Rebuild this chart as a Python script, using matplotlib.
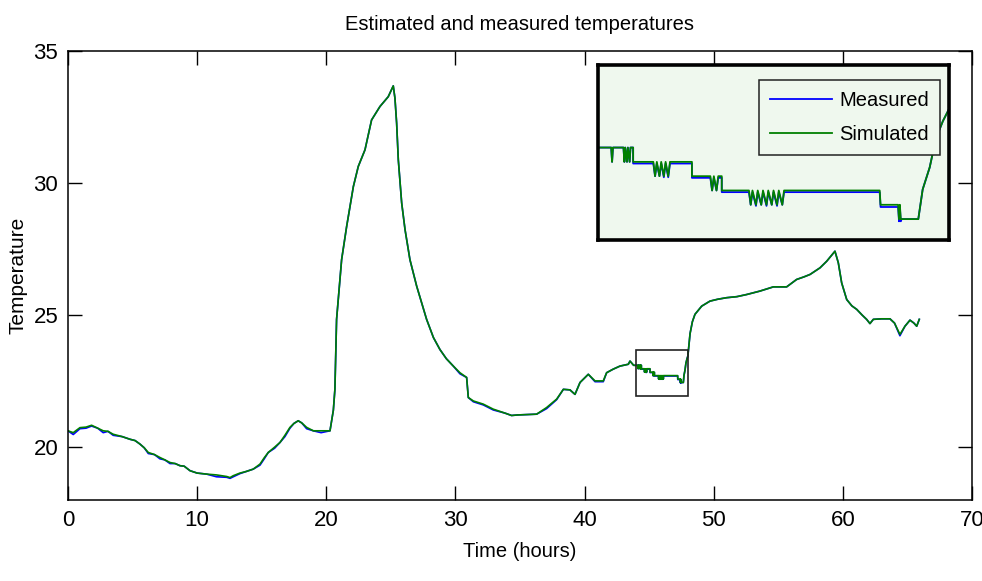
import numpy as np
import matplotlib
matplotlib.use('Agg')
import matplotlib.pyplot as plt
from matplotlib.patches import Rectangle

plt.rcParams['font.family'] = ['Liberation Sans', 'DejaVu Sans']
plt.rcParams['font.size'] = 15

# Datos -----------------------------------------------------------------------
tiempo = [0.00, 0.41, 0.93, 1.40, 1.83, 2.30, 2.73, 3.10, 3.50, 4.20, 4.80, 5.20,
          5.57, 5.90, 6.22, 6.70, 7.12, 7.50, 7.90, 8.30, 8.67, 9.00, 9.45, 10.00,
          10.74, 11.50, 12.29, 12.55, 12.80, 13.32, 13.80, 14.35, 14.87, 15.20, 15.51, 16.00,
          16.42, 16.80, 17.19, 17.50, 17.83, 18.10, 18.48, 19.00, 19.60, 20.29, 20.55, 20.67,
          20.80, 21.19, 21.58, 22.10, 22.48, 23.00, 23.51, 24.16, 24.80, 25.19, 25.32, 25.45,
          25.58, 25.84, 26.10, 26.48, 27.00, 27.77, 28.30, 28.80, 29.30, 29.84, 30.35, 30.87,
          31.00, 31.39, 32.16, 32.93, 33.84, 34.35, 34.80, 36.29, 37.06, 37.84, 38.36, 38.87,
          39.26, 39.65, 40.29, 40.81, 41.45, 41.71, 42.20, 42.74, 43.39, 43.52, 43.80, 44.00,
          # zona ampliada
          44.15, 44.16, 44.17, 44.29, 44.30, 44.31, 44.33, 44.34, 44.36, 44.37, 44.40, 44.40,
          44.63, 44.65, 44.67, 44.70, 44.72, 44.75, 44.77, 44.80, 44.82, 45.07, 45.07, 45.28,
          45.30, 45.32, 45.35, 45.37, 45.41, 45.41, 45.72, 45.74, 45.76, 45.80, 45.82, 45.86,
          45.88, 45.92, 45.94, 45.98, 46.00, 46.04, 46.06, 46.10, 46.12, 46.14, 47.21, 47.22,
          47.26, 47.42, 47.43, 47.44, 47.45, 47.46, 47.65, 47.70, 47.78, 47.85, 47.93, 48.00,
          # resto
          48.17, 48.35, 48.55, 49.07, 49.71, 50.30, 51.00, 51.80, 52.55, 53.58, 54.62, 55.65,
          56.42, 57.00, 57.46, 58.23, 58.75, 59.10, 59.39, 59.65, 59.91, 60.30, 60.70, 61.07,
          61.50, 61.84, 62.10, 62.36, 63.00, 63.65, 64.00, 64.42, 64.81, 65.20, 65.50, 65.72,
          65.92]

simulada = [20.62, 20.55, 20.74, 20.76, 20.83, 20.72, 20.62, 20.60, 20.49, 20.40, 20.30, 20.25,
            20.12, 19.98, 19.80, 19.72, 19.61, 19.52, 19.42, 19.38, 19.30, 19.28, 19.11, 19.02,
            18.98, 18.95, 18.89, 18.85, 18.92, 19.02, 19.08, 19.17, 19.36, 19.60, 19.80, 20.00,
            20.18, 20.45, 20.75, 20.90, 21.00, 20.92, 20.75, 20.62, 20.62, 20.62, 21.40, 22.19,
            24.84, 27.10, 28.36, 29.87, 30.63, 31.26, 32.39, 32.90, 33.27, 33.68, 33.21, 32.27,
            30.88, 29.25, 28.24, 27.10, 26.10, 24.84, 24.15, 23.70, 23.35, 23.07, 22.82, 22.64,
            21.88, 21.75, 21.63, 21.44, 21.29, 21.20, 21.22, 21.25, 21.50, 21.82, 22.19, 22.17,
            22.00, 22.45, 22.76, 22.51, 22.51, 22.82, 22.95, 23.07, 23.14, 23.26, 23.10, 23.10,
            23.10, 22.97, 23.10, 23.10, 22.97, 23.10, 22.97, 23.10, 22.97, 23.10, 23.10, 22.97,
            22.97, 22.84, 22.97, 22.84, 22.97, 22.84, 22.97, 22.84, 22.97, 22.97, 22.84, 22.84,
            22.71, 22.84, 22.71, 22.84, 22.84, 22.71, 22.71, 22.58, 22.71, 22.58, 22.71, 22.58,
            22.71, 22.58, 22.71, 22.58, 22.71, 22.58, 22.71, 22.58, 22.71, 22.71, 22.71, 22.58,
            22.58, 22.58, 22.45, 22.58, 22.45, 22.45, 22.45, 22.72, 22.92, 23.18, 23.34, 23.45,
            24.30, 24.75, 25.03, 25.34, 25.53, 25.60, 25.66, 25.70, 25.78, 25.91, 26.07, 26.07,
            26.35, 26.45, 26.54, 26.79, 27.04, 27.25, 27.42, 26.98, 26.22, 25.59, 25.35, 25.22,
            25.00, 24.84, 24.68, 24.84, 24.86, 24.86, 24.70, 24.27, 24.58, 24.81, 24.70, 24.58,
            24.84]

medida = [20.62, 20.48, 20.70, 20.72, 20.80, 20.72, 20.55, 20.60, 20.45, 20.40, 20.30, 20.25,
          20.12, 19.98, 19.76, 19.72, 19.56, 19.52, 19.38, 19.38, 19.30, 19.28, 19.11, 19.02,
          18.98, 18.88, 18.86, 18.82, 18.88, 19.00, 19.08, 19.17, 19.32, 19.56, 19.80, 19.96,
          20.18, 20.40, 20.72, 20.90, 21.00, 20.92, 20.70, 20.62, 20.55, 20.62, 21.40, 22.19,
          24.84, 27.10, 28.36, 29.87, 30.63, 31.26, 32.39, 32.90, 33.27, 33.68, 33.21, 32.27,
          30.88, 29.25, 28.24, 27.10, 26.10, 24.84, 24.15, 23.70, 23.35, 23.07, 22.78, 22.64,
          21.88, 21.72, 21.60, 21.41, 21.29, 21.20, 21.22, 21.25, 21.46, 21.80, 22.19, 22.17,
          22.00, 22.45, 22.76, 22.48, 22.48, 22.82, 22.95, 23.07, 23.14, 23.26, 23.10, 23.10,
          23.10, 22.97, 23.10, 23.10, 22.97, 23.10, 22.97, 23.10, 22.97, 23.10, 23.10, 22.955,
          22.955, 22.84, 22.955, 22.84, 22.955, 22.83, 22.955, 22.83, 22.955, 22.955, 22.825, 22.825,
          22.71, 22.825, 22.71, 22.825, 22.825, 22.695, 22.695, 22.58, 22.695, 22.57, 22.695, 22.58,
          22.695, 22.57, 22.695, 22.58, 22.695, 22.57, 22.695, 22.58, 22.695, 22.695, 22.695, 22.56,
          22.56, 22.56, 22.43, 22.56, 22.43, 22.45, 22.45, 22.72, 22.92, 23.18, 23.34, 23.45,
          24.30, 24.75, 25.03, 25.34, 25.53, 25.60, 25.66, 25.70, 25.78, 25.91, 26.07, 26.07,
          26.35, 26.45, 26.54, 26.79, 27.04, 27.25, 27.42, 26.98, 26.22, 25.59, 25.35, 25.22,
          25.00, 24.84, 24.68, 24.84, 24.86, 24.86, 24.70, 24.22, 24.58, 24.81, 24.70, 24.58,
          24.84]

# recuadro de la zona ampliada: (x0, x1, y0, y1)
zona = (44.0, 48.0, 21.94, 23.68)
zona_inset = (44.0, 48.0, 22.26, 23.85)

azul = '#0000ff'
verde = '#008000'

fig = plt.figure(figsize=(9.82, 5.81), dpi=100)
ax = fig.add_axes([0.0692, 0.1394, 0.9206, 0.7728])

ax.plot(tiempo, medida, color=azul, lw=1.2, label='Measured')
ax.plot(tiempo, simulada, color=verde, lw=1.2, label='Simulated')

ax.add_patch(Rectangle((zona[0], zona[2]), zona[1]-zona[0], zona[3]-zona[2],
                       fill=False, ec='#222222', lw=1.2, zorder=5))

ax.set_xlim(0, 70)
ax.set_ylim(18, 35)
ax.set_xticks(np.arange(0, 71, 10))
ax.set_yticks([20, 25, 30, 35])
ax.tick_params(direction='in', length=10, width=1, top=True, right=True,
               labelsize=16, pad=7)
for s in ax.spines.values():
    s.set_linewidth(1.1)

ax.set_title('Estimated and measured temperatures', fontsize=14.5, pad=15)
ax.set_xlabel('Time (hours)', fontsize=14.5, labelpad=8)
ax.set_ylabel('Temperature', fontsize=15)
ax.yaxis.set_label_coords(-0.045, 0.5)

# Ampliacion ******************************************************************
axi = fig.add_axes([0.609, 0.5869, 0.3574, 0.3012])
axi.set_facecolor('#eff8ee')
axi.plot(tiempo, medida, color=azul, lw=1.3, label='Measured')
axi.plot(tiempo, simulada, color=verde, lw=1.3, label='Simulated')
axi.set_xlim(zona_inset[0], zona_inset[1])
axi.set_ylim(zona_inset[2], zona_inset[3])
axi.set_xticks([])
axi.set_yticks([])
for s in axi.spines.values():
    s.set_linewidth(2.6)

leg = axi.legend(loc='upper right', bbox_to_anchor=(0.975, 0.915), fontsize=14.5,
                 handlelength=3.1, fancybox=False, framealpha=1, borderpad=0.55,
                 labelspacing=0.75, handletextpad=0.35, borderaxespad=0)
leg.get_frame().set_facecolor('#eff8ee')
leg.get_frame().set_edgecolor('#222222')
leg.get_frame().set_linewidth(1.1)

fig.savefig('out.png', dpi=100)
